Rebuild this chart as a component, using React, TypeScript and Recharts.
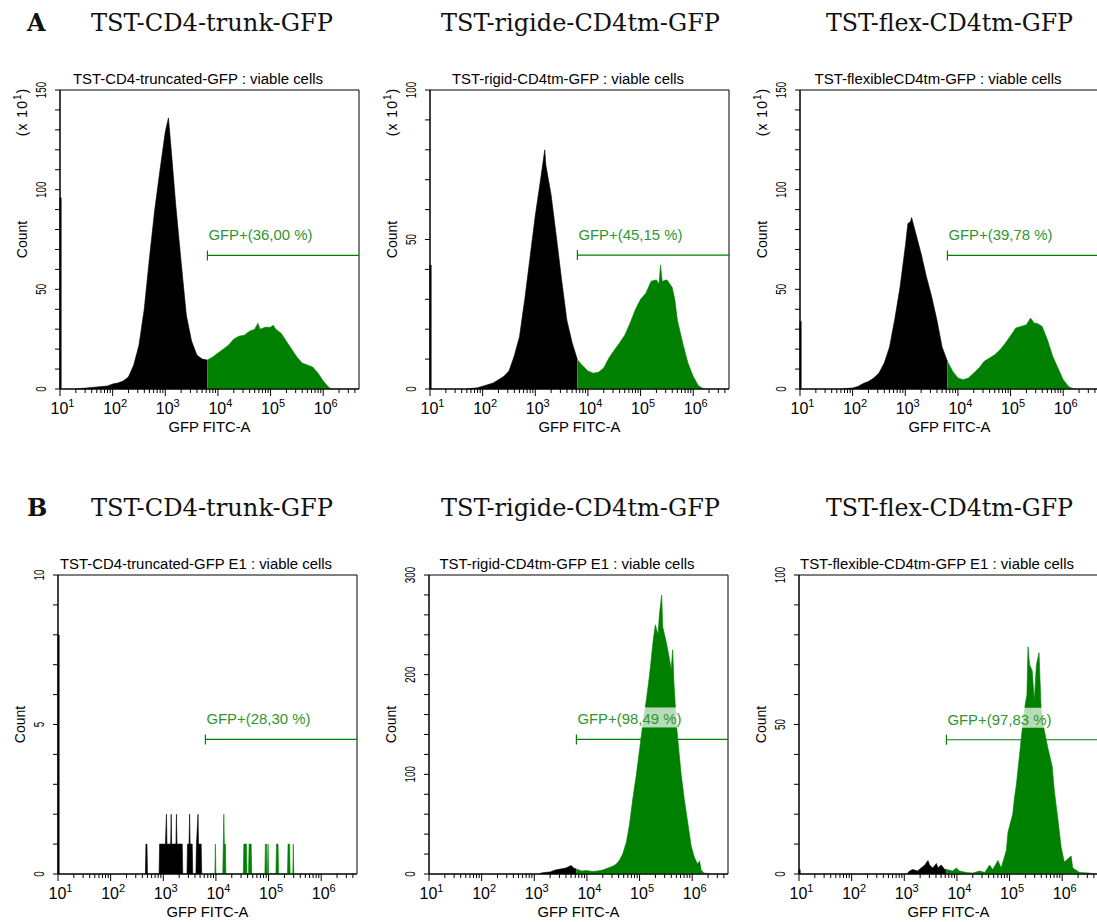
import React from 'react';
import { ComposedChart, Area, XAxis, YAxis, ReferenceLine, ReferenceArea } from 'recharts';

// histogram outlines: [log10(GFP FITC-A), count]
const a1Black: number[][] = [[1.3, 0], [1.5, 0.5], [1.7, 1], [1.9, 1.5], [2.0, 2.5], [2.1, 3], [2.2, 4], [2.3, 6], [2.4, 12], [2.5, 22], [2.6, 40], [2.7, 66], [2.8, 90], [2.9, 110], [3.0, 129], [3.06, 136], [3.1, 124], [3.2, 92], [3.3, 64], [3.4, 37], [3.5, 24], [3.6, 17], [3.7, 15], [3.8, 14.5]];
const a1Green: number[][] = [[3.8, 14.5], [3.9, 16], [4.0, 18], [4.1, 20], [4.2, 22], [4.3, 25], [4.4, 26.5], [4.5, 27], [4.6, 29], [4.7, 30], [4.76, 33], [4.8, 30], [4.9, 31], [5.0, 31], [5.05, 32], [5.1, 30], [5.2, 28], [5.3, 24], [5.4, 20], [5.5, 16], [5.6, 13], [5.7, 12], [5.8, 11], [5.9, 8], [6.0, 4], [6.1, 1], [6.15, 0]];

const a2Black: number[][] = [[1.7, 0], [1.9, 0.4], [2.0, 0.9], [2.2, 2], [2.4, 4.2], [2.5, 6], [2.6, 11], [2.7, 17.5], [2.8, 30], [2.9, 44], [3.0, 58], [3.1, 70], [3.18, 80], [3.2, 75], [3.3, 65], [3.4, 51], [3.5, 36.5], [3.6, 23], [3.7, 15.5], [3.8, 9.8]];
const a2Green: number[][] = [[3.8, 9.8], [3.9, 7.8], [4.0, 6], [4.1, 5.3], [4.2, 5.6], [4.3, 7], [4.4, 10.4], [4.5, 13], [4.6, 15.4], [4.7, 18], [4.8, 22], [4.9, 26.5], [5.0, 30], [5.1, 32], [5.2, 36], [5.3, 36.5], [5.35, 35], [5.38, 41.5], [5.41, 36], [5.5, 36.5], [5.6, 34], [5.65, 30], [5.7, 23], [5.8, 15.4], [5.9, 8.7], [6.0, 4.2], [6.1, 1.1], [6.2, 0]];

const a3Black: number[][] = [[1.8, 0], [1.9, 0.3], [2.0, 0.5], [2.1, 1.3], [2.2, 2.7], [2.3, 3.8], [2.4, 5.5], [2.5, 8], [2.6, 13], [2.7, 21], [2.8, 35], [2.9, 51], [3.0, 71.5], [3.05, 83], [3.1, 84], [3.12, 86], [3.2, 78], [3.3, 68], [3.4, 56.5], [3.5, 46.4], [3.6, 34.7], [3.7, 21], [3.8, 13.9]];
const a3Green: number[][] = [[3.8, 13.9], [3.9, 8.9], [4.0, 5.5], [4.1, 4.7], [4.2, 5.5], [4.3, 8], [4.4, 10.5], [4.5, 13.9], [4.6, 15.5], [4.7, 17.2], [4.8, 19.7], [4.9, 23], [5.0, 26.7], [5.1, 30.6], [5.2, 31.4], [5.3, 32.2], [5.38, 35.6], [5.45, 33], [5.5, 33], [5.6, 31.4], [5.7, 24.7], [5.8, 16.4], [5.9, 10.5], [6.0, 4.7], [6.1, 1.3], [6.2, 0]];

const b1Black: number[][] = [[2.66, 0], [2.67, 1], [2.69, 1], [2.7, 0], [2.92, 0], [2.93, 1], [3.04, 1], [3.06, 2], [3.07, 1], [3.14, 1], [3.15, 2], [3.16, 1], [3.24, 1], [3.25, 2], [3.26, 1], [3.36, 1], [3.37, 0], [3.45, 0], [3.46, 1], [3.49, 1], [3.5, 2], [3.51, 1], [3.55, 1], [3.56, 0], [3.62, 0], [3.63, 1], [3.66, 2], [3.67, 1], [3.72, 1], [3.73, 0]];
const b1Green: number[][] = [[3.98, 0], [3.99, 1], [4.0, 0], [4.13, 0], [4.14, 1], [4.15, 2], [4.16, 1], [4.18, 1], [4.19, 0], [4.52, 0], [4.53, 1], [4.58, 1], [4.59, 0], [4.62, 0], [4.63, 1], [4.67, 1], [4.68, 0], [4.93, 0], [4.94, 1], [4.96, 1], [4.97, 0], [4.98, 0], [4.99, 1], [5.0, 0], [5.14, 0], [5.15, 1], [5.18, 1], [5.19, 0], [5.36, 0], [5.37, 1], [5.4, 1], [5.41, 0], [5.46, 0], [5.47, 1], [5.48, 0]];

const b2Black: number[][] = [[3.1, 0], [3.13, 1], [3.2, 1.5], [3.3, 2], [3.4, 4], [3.5, 5], [3.6, 6], [3.7, 8.5], [3.75, 6], [3.8, 5]];
const b2Green: number[][] = [[3.8, 5], [3.9, 3], [4.0, 3.5], [4.1, 2.5], [4.2, 3], [4.3, 4], [4.4, 6], [4.5, 8], [4.56, 10], [4.62, 14], [4.68, 20], [4.75, 32], [4.81, 50], [4.87, 75], [4.94, 100], [5.0, 125], [5.06, 150], [5.13, 175], [5.19, 200], [5.26, 235], [5.3, 250], [5.35, 240], [5.38, 262], [5.42, 280], [5.44, 248], [5.51, 232], [5.57, 215], [5.6, 205], [5.63, 225], [5.65, 195], [5.7, 150], [5.79, 100], [5.85, 75], [5.92, 50], [5.98, 28], [6.04, 17], [6.1, 10], [6.14, 13], [6.17, 4], [6.22, 1], [6.3, 0.5], [6.35, 0]];

const b3Black: number[][] = [[3.05, 0], [3.1, 1], [3.16, 1.5], [3.25, 1], [3.32, 2], [3.39, 3], [3.45, 4.5], [3.48, 3], [3.54, 2], [3.61, 3.5], [3.64, 2], [3.7, 3], [3.77, 1.5], [3.8, 1.5]];
const b3Green: number[][] = [[3.8, 1.5], [3.92, 1], [3.99, 2], [4.05, 1], [4.18, 0.5], [4.3, 0.3], [4.43, 1], [4.53, 0.5], [4.62, 3], [4.68, 1.5], [4.78, 4.5], [4.84, 2], [4.94, 8], [4.97, 14], [5.0, 16], [5.06, 20], [5.09, 25], [5.13, 30], [5.19, 40], [5.25, 50], [5.3, 57], [5.33, 60], [5.35, 76], [5.38, 70], [5.43, 68], [5.47, 58], [5.51, 70], [5.56, 74], [5.6, 55], [5.66, 48], [5.73, 42], [5.81, 36], [5.85, 28], [5.92, 18], [5.98, 9], [6.04, 4], [6.17, 6], [6.2, 2], [6.33, 0.5], [6.52, 0.3], [6.6, 0]];

// off-scale events piled on the first channel
const edgeCounts = [96, 41.5, 34, 8, 0, 1.5];
// GFP+ gate: marker height (count units) and label
const gateLevels = [67, 44.8, 67, 4.5, 135, 44.9];
const gateLabels = ['GFP+(36,00 %)', 'GFP+(45,15 %)', 'GFP+(39,78 %)', 'GFP+(28,30 %)', 'GFP+(98,49 %)', 'GFP+(97,83 %)'];
const GATE_START = 3.8;

const subtitles = [
  'TST-CD4-truncated-GFP : viable cells',
  'TST-rigid-CD4tm-GFP : viable cells',
  'TST-flexibleCD4tm-GFP : viable cells',
  'TST-CD4-truncated-GFP E1 : viable cells',
  'TST-rigid-CD4tm-GFP E1 : viable cells',
  'TST-flexible-CD4tm-GFP E1 : viable cells'
];
const rowTitles = ['TST-CD4-trunk-GFP', 'TST-rigide-CD4tm-GFP', 'TST-flex-CD4tm-GFP'];
const rowLetters = ['A', 'B'];

const yMaxes = [150, 100, 150, 10, 300, 100];
const yMinorSteps = [10, 10, 10, 1, 20, 10];
const yLabelSteps = [50, 50, 50, 5, 100, 50];

const GREEN = '#008000';
const LABEL_GREEN = '#2f962f';
const SANS = '"Liberation Sans", Arial, sans-serif';
const SERIF = '"DejaVu Serif", "Liberation Serif", serif';

const ML = 60;
const MT = 90;
const PW = 299;
const PH = 299;
const CW = 370;
const CH = 460;
const X_MIN = 1;
const X_MAX = 6.68;

const X_TICKS: number[] = [];
for (let d = 1; d <= 6; d++) {
  X_TICKS.push(d);
  for (let k = 2; k <= 9; k++) {
    const v = d + Math.log10(k);
    if (v <= X_MAX) X_TICKS.push(v);
  }
}

const panels = [
  { left: 60, top: 90, black: a1Black, green: a1Green, mult: true },
  { left: 430, top: 90, black: a2Black, green: a2Green, mult: true },
  { left: 800, top: 90, black: a3Black, green: a3Green, mult: true },
  { left: 58, top: 575, black: b1Black, green: b1Green, mult: false },
  { left: 429, top: 575, black: b2Black, green: b2Green, mult: false },
  { left: 799, top: 575, black: b3Black, green: b3Green, mult: false }
];
const subtitleWidths = [250, 232, 247, 272, 255, 274];

const XTick = (props: any) => {
  const { x, payload } = props;
  const v = payload.value;
  const major = Math.abs(v - Math.round(v)) < 1e-6;
  const bottom = MT + PH;
  return (
    <g>
      <line x1={x} x2={x} y1={bottom} y2={bottom + (major ? 7 : 4)} stroke="#000" />
      {major && (
        <text x={x + 2.5} y={bottom + 25} textAnchor="middle" fontSize={16} fontFamily={SANS} fill="#000">
          <tspan>10</tspan>
          <tspan dy={-7} fontSize={11}>{Math.round(v)}</tspan>
        </text>
      )}
    </g>
  );
};

const makeYTick = (labelStep: number) => (props: any) => {
  const { y, payload } = props;
  const v = payload.value;
  const showLabel = Math.abs(v / labelStep - Math.round(v / labelStep)) < 1e-6;
  const s = String(v);
  return (
    <g>
      <line x1={ML - 5} x2={ML} y1={y} y2={y} stroke="#000" />
      {showLabel && (
        <text
          x={46}
          y={y}
          transform={`rotate(-90 46 ${y})`}
          textAnchor="middle"
          fontSize={14}
          fontFamily={SANS}
          fill="#000"
          textLength={s.length * 5.5}
          lengthAdjust="spacingAndGlyphs"
        >
          {s}
        </text>
      )}
    </g>
  );
};

const GateLabel = ({ viewBox, text }: any) => {
  const x = viewBox.x;
  const y = viewBox.y;
  return (
    <g>
      <rect x={x} y={y - 32} width={106} height={20} fill="#fff" fillOpacity={0.72} />
      <text x={x + 1} y={y - 15} fontSize={14} fontFamily={SANS} fill={LABEL_GREEN} textLength={104} lengthAdjust="spacingAndGlyphs">
        {text}
      </text>
    </g>
  );
};

const Histogram = ({ i }: { i: number }) => {
  const p = panels[i];
  const yMax = yMaxes[i];
  const yTicks: number[] = [];
  for (let v = 0; v <= yMax + 1e-9; v += yMinorSteps[i]) yTicks.push(v);
  const rows = [
    ...p.black.map(([x, y]) => ({ x, black: y })),
    ...p.green.map(([x, y]) => ({ x, green: y }))
  ];
  const gate = gateLevels[i];
  const tickHalf = (5 * yMax) / PH;
  const YTick = makeYTick(yLabelSteps[i]);

  return (
    <div style={{ position: 'absolute', left: p.left - ML, top: p.top - MT, width: CW, height: CH }}>
      <ComposedChart
        width={CW}
        height={CH}
        data={rows}
        margin={{ top: MT, left: ML - 1, right: CW - ML - PW, bottom: CH - MT - PH - 1 }}
      >
        <XAxis
          type="number"
          dataKey="x"
          domain={[X_MIN, X_MAX]}
          allowDataOverflow
          ticks={X_TICKS}
          interval={0}
          height={1}
          tickLine={false}
          axisLine={{ stroke: '#000' }}
          tick={(props: any) => <XTick {...props} />}
        />
        <YAxis
          type="number"
          domain={[0, yMax]}
          allowDataOverflow
          ticks={yTicks}
          interval={0}
          width={1}
          tickLine={false}
          axisLine={{ stroke: '#000' }}
          tick={(props: any) => <YTick {...props} />}
        />
        <ReferenceArea x1={X_MIN} x2={X_MAX} y1={0} y2={yMax} fill="none" stroke="#000" strokeWidth={1} fillOpacity={0} />
        <Area
          dataKey="black"
          type="linear"
          stroke="#000"
          strokeWidth={0.6}
          fill="#000"
          fillOpacity={1}
          dot={false}
          activeDot={false}
          isAnimationActive={false}
        />
        <Area
          dataKey="green"
          type="linear"
          stroke={GREEN}
          strokeWidth={0.6}
          fill={GREEN}
          fillOpacity={1}
          dot={false}
          activeDot={false}
          isAnimationActive={false}
        />
        {edgeCounts[i] > 0 && (
          <ReferenceLine
            segment={[{ x: 1.01, y: 0 }, { x: 1.01, y: edgeCounts[i] }]}
            stroke="#000"
            strokeWidth={2}
          />
        )}
        <ReferenceLine
          segment={[{ x: GATE_START, y: gate - tickHalf }, { x: GATE_START, y: gate + tickHalf }]}
          stroke={GREEN}
          strokeWidth={1.2}
        />
        <ReferenceLine
          segment={[{ x: GATE_START, y: gate }, { x: X_MAX, y: gate }]}
          stroke={GREEN}
          strokeWidth={1.2}
          label={(props: any) => <GateLabel viewBox={props.viewBox} text={gateLabels[i]} />}
        />
      </ComposedChart>
      <svg
        width={CW}
        height={CH}
        style={{ position: 'absolute', left: 0, top: 0, pointerEvents: 'none', overflow: 'visible' }}
      >
        <text
          x={ML + 138}
          y={MT - 6}
          textAnchor="middle"
          fontSize={14}
          fontFamily={SANS}
          fill="#000"
          textLength={subtitleWidths[i]}
          lengthAdjust="spacingAndGlyphs"
        >
          {subtitles[i]}
        </text>
        <text
          x={27}
          y={MT + PH / 2}
          transform={`rotate(-90 27 ${MT + PH / 2})`}
          textAnchor="middle"
          fontSize={14}
          fontFamily={SANS}
          fill="#000"
        >
          Count
        </text>
        {p.mult && (
          <text
            x={27}
            y={112}
            transform={`rotate(-90 27 112)`}
            textAnchor="middle"
            fontSize={14}
            fontFamily={SANS}
            fill="#000"
            letterSpacing={1}
          >
            <tspan>(x 10</tspan>
            <tspan dy={-6} fontSize={10}>1</tspan>
            <tspan dy={6}>)</tspan>
          </text>
        )}
        <text
          x={ML + PW / 2}
          y={MT + PH + 43}
          textAnchor="middle"
          fontSize={15}
          fontFamily={SANS}
          fill="#000"
          textLength={82}
          lengthAdjust="spacingAndGlyphs"
        >
          GFP FITC-A
        </text>
      </svg>
    </div>
  );
};

const titleX = [91, 441, 826];
const titleW = [242, 279, 247];
const rowBaselines = [31, 516];

export default function App() {
  return (
    <div
      style={{
        position: 'absolute',
        left: 0,
        top: 0,
        width: 1097,
        height: 922,
        overflow: 'hidden',
        background: '#fff'
      }}
    >
      {panels.map((_, i) => (
        <Histogram key={i} i={i} />
      ))}
      <svg width={1097} height={922} style={{ position: 'absolute', left: 0, top: 0, pointerEvents: 'none' }}>
        {rowBaselines.map((by, r) => (
          <g key={r}>
            <text x={27} y={by} fontSize={24} fontWeight="bold" fontFamily={SERIF} fill="#111">
              {rowLetters[r]}
            </text>
            {rowTitles.map((t, c) => (
              <text
                key={c}
                x={titleX[c]}
                y={by}
                fontSize={24}
                fontFamily={SERIF}
                fill="#111"
                textLength={titleW[c]}
                lengthAdjust="spacingAndGlyphs"
              >
                {t}
              </text>
            ))}
          </g>
        ))}
      </svg>
    </div>
  );
}
